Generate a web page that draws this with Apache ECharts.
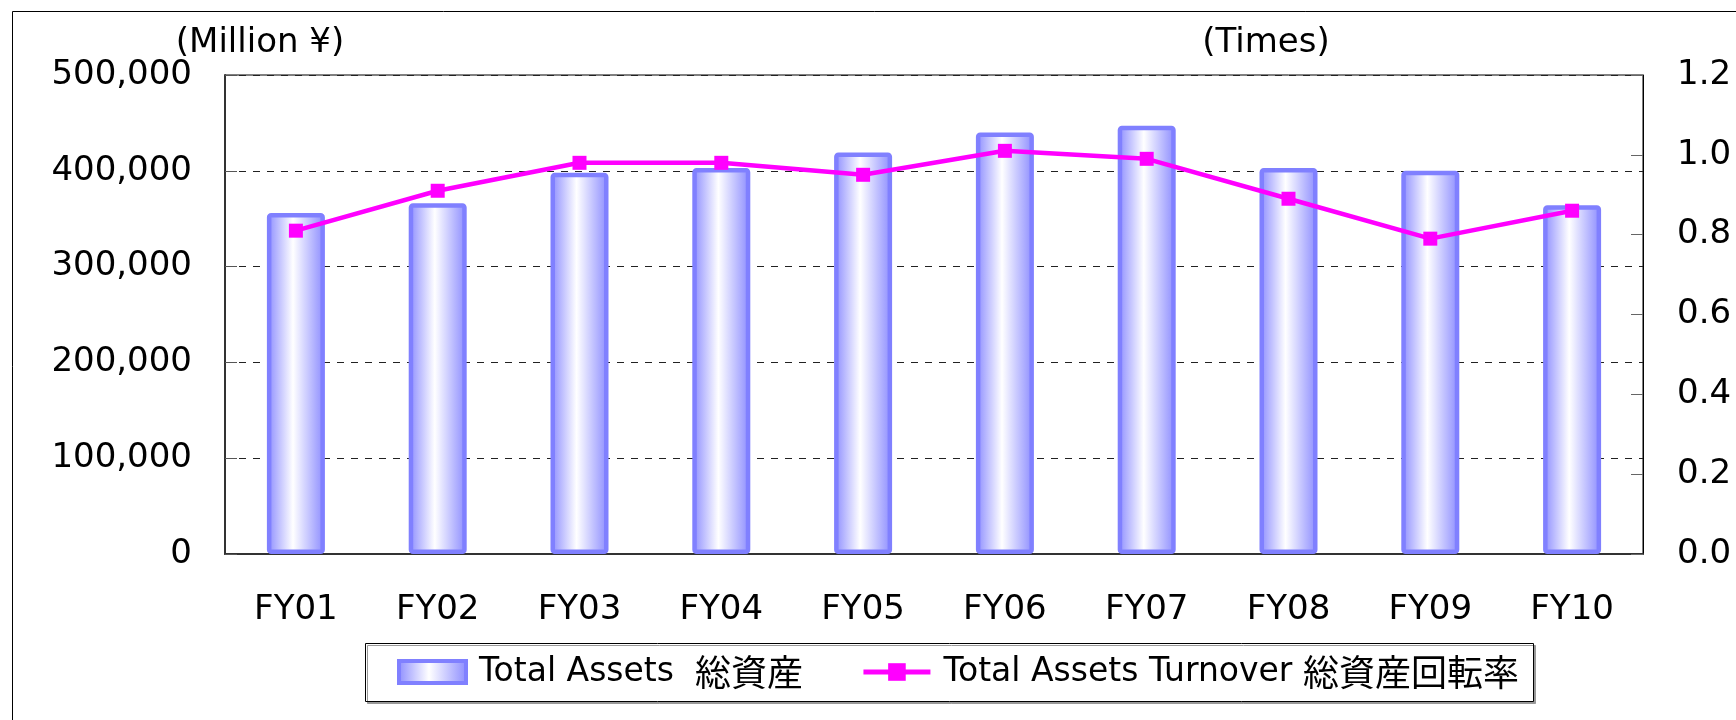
<!DOCTYPE html>
<html>
<head>
<meta charset="utf-8">
<script src="https://cdn.jsdelivr.net/npm/echarts@6/dist/echarts.min.js"></script>
<style>
html,body{margin:0;padding:0;background:#fff;}
#chart{width:1736px;height:720px;}
</style>
</head>
<body>
<div id="chart"></div>
<script>
const categories = ['FY01','FY02','FY03','FY04','FY05','FY06','FY07','FY08','FY09','FY10'];
const totalAssets = [356000, 366000, 398000, 403000, 419000, 440000, 447000, 403000, 400000, 364000];
const turnover = [0.81, 0.91, 0.98, 0.98, 0.95, 1.01, 0.99, 0.89, 0.79, 0.86];
const leftTicks = {min: 0, max: 500000, interval: 100000};
const rightTicks = {min: 0, max: 1.2, interval: 0.2};
const seriesNames = ['Total Assets  総資産', 'Total Assets Turnover 総資産回転率'];
const leftAxisTitle = '(Million ¥)';
const rightAxisTitle = '(Times)';

const FONT = "'DejaVu Sans', 'Noto Sans CJK JP', sans-serif";
const CJK = "'Noto Sans CJK JP', sans-serif";
const chart = echarts.init(document.getElementById('chart'), null, {renderer: 'canvas'});

const barFill = new echarts.graphic.LinearGradient(0, 0, 1, 0, [
  {offset: 0, color: '#8a8aff'},
  {offset: 0.45, color: '#ffffff'},
  {offset: 1, color: '#8a8aff'}
]);

function legendFormatter(name) {
  const m = name.match(/^([^\u3000-\u9fff]*?)([\u3000-\u9fff]+)$/);
  if (!m) return name;
  return '{a|' + m[1] + '}{c|' + m[2] + '}';
}

chart.setOption({
  backgroundColor: '#ffffff',
  animation: false,
  textStyle: {fontFamily: FONT},
  grid: {left: 225, right: 93, top: 75, bottom: 166, show: true, borderColor: '#000', borderWidth: 1},
  graphic: [
    {type: 'rect', z: -10, shape: {x: 12.5, y: 11.5, width: 1800, height: 800},
     style: {fill: null, stroke: '#000', lineWidth: 1}},
    {type: 'rect', z: 0, shape: {x: 365.5, y: 643.5, width: 1168, height: 58},
     style: {fill: '#fff', stroke: '#000', lineWidth: 1, shadowColor: '#999', shadowOffsetX: 2, shadowOffsetY: 2, shadowBlur: 0}},
    {type: 'text', style: {text: leftAxisTitle, x: 260, y: 43, fontSize: 34, fontFamily: FONT, fill: '#000', align: 'center', verticalAlign: 'middle'}},
    {type: 'text', style: {text: rightAxisTitle, x: 1266, y: 43, fontSize: 34, fontFamily: FONT, fill: '#000', align: 'center', verticalAlign: 'middle'}}
  ],
  legend: {
    left: 397, top: 654, padding: 0,
    itemWidth: 67, itemHeight: 22, itemGap: 58,
    formatter: legendFormatter,
    textStyle: {
      color: '#000',
      rich: {
        a: {fontSize: 33, fontFamily: FONT, color: '#000', padding: [0, 0, 0, 8], lineHeight: 38},
        c: {fontSize: 36, fontFamily: CJK, color: '#000', lineHeight: 38}
      }
    },
    data: [
      {name: seriesNames[0], icon: 'rect', itemStyle: {borderColor: '#8080ff', borderWidth: 4}},
      {name: seriesNames[1], lineStyle: {width: 5}}
    ]
  },
  xAxis: {
    type: 'category', data: categories, boundaryGap: true,
    axisLine: {lineStyle: {color: '#333', width: 2}},
    axisTick: {inside: true, length: 11, lineStyle: {color: '#555', width: 1}},
    axisLabel: {fontSize: 34, color: '#000', margin: 39, fontFamily: FONT}
  },
  yAxis: [
    {
      type: 'value', min: leftTicks.min, max: leftTicks.max, interval: leftTicks.interval,
      axisLine: {show: true, lineStyle: {color: '#333', width: 2}},
      axisTick: {show: true, inside: true, length: 12, lineStyle: {color: '#555'}},
      axisLabel: {fontSize: 34, color: '#000', margin: 33, fontFamily: FONT,
        formatter: v => v.toLocaleString('en-US')},
      splitLine: {show: true, lineStyle: {color: '#222', type: [7, 7], width: 1}}
    },
    {
      type: 'value', min: rightTicks.min, max: rightTicks.max, interval: rightTicks.interval,
      axisLine: {show: true, lineStyle: {color: '#000', width: 1}},
      axisTick: {show: true, inside: true, length: 12, lineStyle: {color: '#666'}},
      axisLabel: {fontSize: 34, color: '#000', margin: 34, fontFamily: FONT,
        formatter: v => v.toFixed(1)},
      splitLine: {show: false}
    }
  ],
  series: [
    {
      name: seriesNames[0], type: 'bar', yAxisIndex: 0, data: totalAssets,
      barWidth: 58,
      itemStyle: {color: barFill, borderColor: '#8080ff', borderWidth: 4.5, borderRadius: 2}
    },
    {
      name: seriesNames[1], type: 'line', yAxisIndex: 1, data: turnover,
      symbol: 'rect', symbolSize: 14,
      lineStyle: {color: '#ff00ff', width: 4.5},
      itemStyle: {color: '#ff00ff'},
      z: 5
    }
  ]
});
</script>
</body>
</html>
